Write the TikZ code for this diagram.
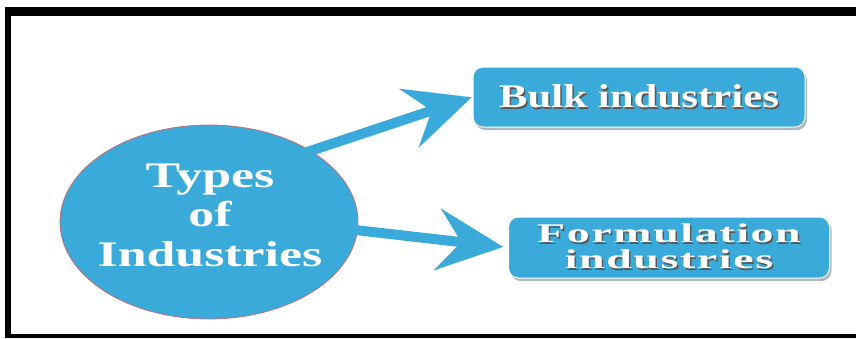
\documentclass[tikz,border=0pt]{standalone}
\usepackage{fontspec}
\setmainfont{Liberation Serif}
\newfontfamily\ellfont[FakeStretch=1.44]{Liberation Serif}
\newfontfamily\bulkfont[FakeStretch=1.3]{Liberation Serif}
\newfontfamily\formfont[FakeStretch=1.7,LetterSpace=6]{Liberation Serif}
\usetikzlibrary{shapes.geometric,arrows.meta,shadows}
\definecolor{skyfill}{HTML}{3AAADB}
\definecolor{ellborder}{HTML}{C0707A}
\definecolor{boxshadow}{HTML}{A9B2BA}
\newcommand\shtxt[2]{\makebox[0pt][l]{\hspace{#2}\raisebox{-#2}{\color{black!65}#1}}#1}
\begin{document}
\begin{tikzpicture}[x=1pt,y=-1pt,
  ellnode/.style={ellipse, fill=skyfill, draw=ellborder, line width=0.8pt,
    minimum width=298pt, minimum height=194pt, inner sep=0pt},
  boxnode/.style={rounded corners=10pt, fill=skyfill, draw=white, line width=1pt,
    text=white, inner sep=0pt,
    drop shadow={shadow xshift=2pt, shadow yshift=-3pt, fill=boxshadow, opacity=0.9}},
  arrowline/.style={draw=skyfill, line width=10pt,
    -{Stealth[length=66pt, width=62pt, inset=24pt, line width=0.1pt]}}
]
\useasboundingbox (0,0) rectangle (856,338);
\fill[white] (0,0) rectangle (856,338);
% frame
\fill[black] (5,7) rectangle (856,16);
\fill[black] (5,7) rectangle (10.5,338);
\fill[black] (5,334) rectangle (856,338);

\node[ellnode] (ell) at (209,222) {};
\node[text=white, align=center, inner sep=0pt,
  font=\ellfont\bfseries\fontsize{36}{39.5}\selectfont] (etext) at (210,215)
  {Types\\of\\Industries};

\node[boxnode, minimum width=332pt, minimum height=60pt,
  font=\bulkfont\bfseries\fontsize{33}{36}\selectfont] (bulk) at (639,97)
  {\shtxt{Bulk industries}{1.5pt}};
\node[boxnode, minimum width=321pt, minimum height=61pt, align=center,
  font=\formfont\bfseries\fontsize{27}{26}\selectfont] (form) at (669,247.5)
  {\shtxt{Formulation}{1.5pt}\\\shtxt{industries}{1.5pt}};

\coordinate (s1) at (300,154.4);
\coordinate (s2) at (350,229.4);
\draw[arrowline, shorten >=1pt] (s1) -- (bulk.west);
\draw[arrowline, shorten >=5pt] (s2) -- (form.west);
\end{tikzpicture}
\end{document}
